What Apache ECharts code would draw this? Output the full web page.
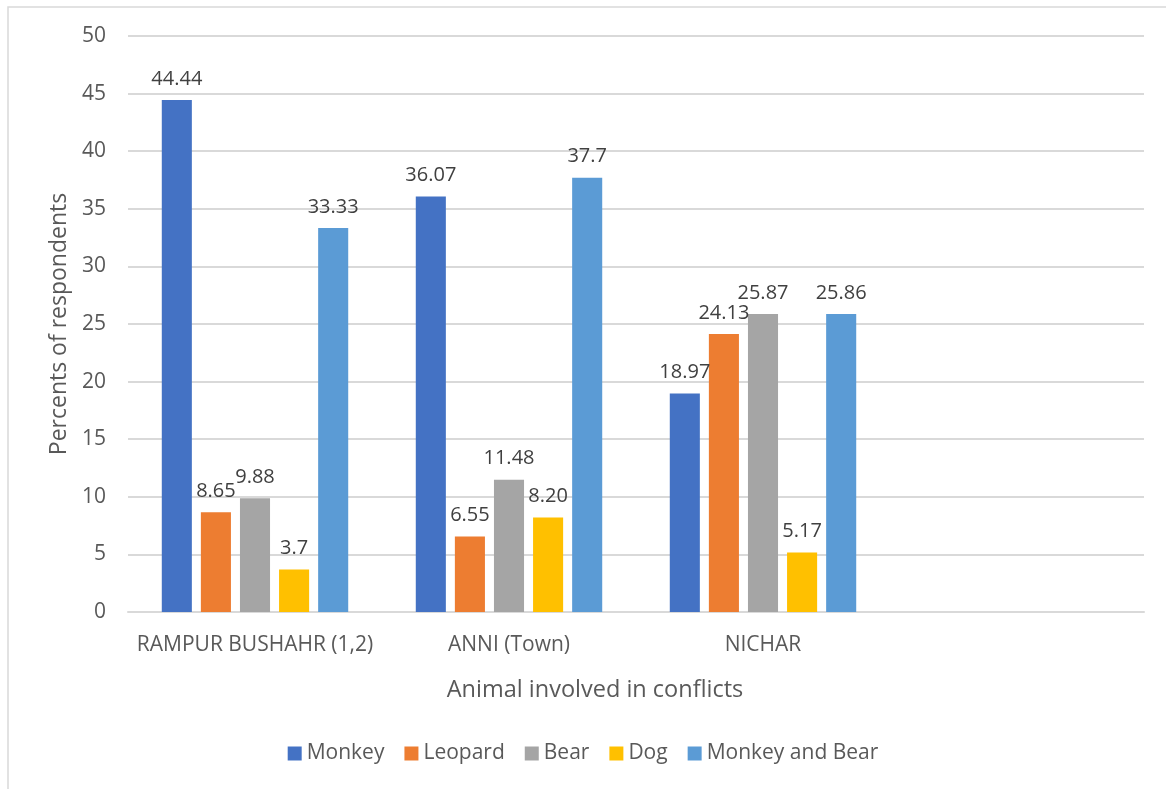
<!DOCTYPE html>
<html>
<head>
<meta charset="utf-8">
<script src="https://cdn.jsdelivr.net/npm/echarts@6/dist/echarts.min.js"></script>
<style>
  html, body { margin: 0; padding: 0; background: #ffffff; }
  #chart { width: 1166px; height: 789px; }
</style>
</head>
<body>
<div id="chart"></div>
<script>
// Sites surveyed (the fourth slot is left blank on the axis)
const categories = ['RAMPUR BUSHAHR (1,2)', 'ANNI (Town)', 'NICHAR', ''];

// Percent of respondents per animal, per site
const monkey        = [44.44, 36.07, 18.97];
const leopard       = [8.65, 6.55, 24.13];
const bear          = [9.88, 11.48, 25.87];
const dog           = [3.7, 8.20, 5.17];
const monkeyAndBear = [33.33, 37.7, 25.86];

// Value labels as printed above the bars
const monkeyLabels        = ['44.44', '36.07', '18.97'];
const leopardLabels       = ['8.65', '6.55', '24.13'];
const bearLabels          = ['9.88', '11.48', '25.87'];
const dogLabels           = ['3.7', '8.20', '5.17'];
const monkeyAndBearLabels = ['33.33', '37.7', '25.86'];

const seriesNames = ['Monkey', 'Leopard', 'Bear', 'Dog', 'Monkey and Bear'];
const yTicks = [0, 5, 10, 15, 20, 25, 30, 35, 40, 45, 50];

const FONT = 'Open Sans';
const colors = ['#4472C4', '#ED7D31', '#A5A5A5', '#FFC000', '#5B9BD5'];

function makeSeries(name, values, labels, color) {
  return {
    name: name,
    type: 'bar',
    data: values,
    barGap: '30%',
    barCategoryGap: '26.6%',
    itemStyle: { color: color },
    label: {
      show: true,
      position: 'top',
      distance: 11,
      color: '#404040',
      fontFamily: FONT,
      fontSize: 20,
      formatter: function (p) { return labels[p.dataIndex]; }
    }
  };
}

const chart = echarts.init(document.getElementById('chart'), null, { renderer: 'canvas' });
chart.setOption({
  animation: false,
  backgroundColor: '#ffffff',
  color: colors,
  grid: { left: 128, right: 22, top: 36, bottom: 177, containLabel: false },
  legend: {
    data: seriesNames,
    bottom: 20,
    left: 'center',
    itemWidth: 14,
    itemHeight: 14,
    itemGap: 20,
    icon: 'rect',
    textStyle: { color: '#595959', fontFamily: FONT, fontSize: 21 }
  },
  xAxis: {
    type: 'category',
    data: categories,
    axisTick: { show: false },
    axisLine: { lineStyle: { color: '#D9D9D9', width: 2 } },
    axisLabel: { color: '#595959', fontFamily: FONT, fontSize: 21, margin: 23, interval: 0 }
  },
  yAxis: {
    type: 'value',
    min: yTicks[0],
    max: yTicks[yTicks.length - 1],
    interval: 5,
    name: 'Percents of respondents',
    nameLocation: 'middle',
    nameGap: 57,
    nameTextStyle: { color: '#595959', fontFamily: FONT, fontSize: 23 },
    axisLine: { show: false },
    axisTick: { show: false },
    axisLabel: { color: '#595959', fontFamily: FONT, fontSize: 21, margin: 22 },
    splitLine: { lineStyle: { color: '#D9D9D9', width: 2 } }
  },
  graphic: [
    {
      type: 'rect',
      shape: { x: 8, y: 7, width: 1180, height: 800 },
      style: { fill: 'none', stroke: '#D9D9D9', lineWidth: 1.5 },
      silent: true
    },
    {
      type: 'text',
      x: 595,
      y: 690,
      style: {
        text: 'Animal involved in conflicts',
        fill: '#595959',
        font: '23.5px "Open Sans"',
        textAlign: 'center',
        textVerticalAlign: 'middle'
      }
    }
  ],
  series: [
    makeSeries(seriesNames[0], monkey, monkeyLabels, colors[0]),
    makeSeries(seriesNames[1], leopard, leopardLabels, colors[1]),
    makeSeries(seriesNames[2], bear, bearLabels, colors[2]),
    makeSeries(seriesNames[3], dog, dogLabels, colors[3]),
    makeSeries(seriesNames[4], monkeyAndBear, monkeyAndBearLabels, colors[4])
  ]
});
</script>
</body>
</html>
